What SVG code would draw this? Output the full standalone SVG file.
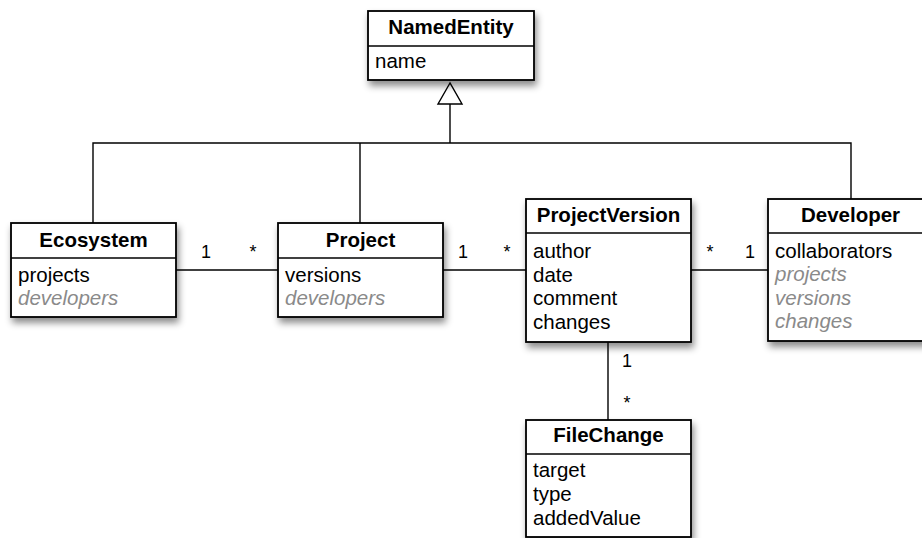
<svg xmlns="http://www.w3.org/2000/svg" width="922" height="538" viewBox="0 0 922 538">
<style>
.box{fill:#fff;stroke:#000;stroke-width:1.8}
.div{stroke:#000;stroke-width:1.5}
.t{font-family:"Liberation Sans",Arial,sans-serif;font-size:20.5px;font-weight:bold;text-anchor:middle;fill:#000}
.a{font-family:"Liberation Sans",Arial,sans-serif;font-size:20.5px;fill:#000}
.d{font-family:"Liberation Sans",Arial,sans-serif;font-size:20.5px;font-style:italic;fill:#8a8a8a}
.m{font-family:"Liberation Sans",Arial,sans-serif;font-size:18px;text-anchor:middle;fill:#000}
.c{fill:none;stroke:#000;stroke-width:1.4}
</style>
<defs>
<filter id="sh" x="-20%" y="-20%" width="150%" height="160%">
<feDropShadow dx="2" dy="5" stdDeviation="3.5" flood-color="#000" flood-opacity="0.45"/>
</filter>
</defs>
<rect width="922" height="538" fill="#fff"/>
<g id="connectors">
<polyline class="c" points="93,223 93,143 851,143 851,199"/>
<line class="c" x1="360" y1="143" x2="360" y2="223"/>
<line class="c" x1="450" y1="143" x2="450" y2="104"/>
<polygon points="450,83 438,104 462,104" fill="#fff" stroke="#000" stroke-width="1.4"/>
<line class="c" x1="176" y1="270" x2="278" y2="270"/>
<line class="c" x1="443" y1="270" x2="526" y2="270"/>
<line class="c" x1="691" y1="270" x2="768" y2="270"/>
<line class="c" x1="608" y1="342" x2="608" y2="420"/>
<text class="m" x="206" y="258">1</text>
<text class="m" x="253" y="258">*</text>
<text class="m" x="463" y="258">1</text>
<text class="m" x="507" y="258">*</text>
<text class="m" x="710" y="258">*</text>
<text class="m" x="750" y="258">1</text>
<text class="m" x="627" y="367">1</text>
<text class="m" x="627" y="409">*</text>
</g>
<g id="NamedEntity">
<rect class="box" x="368" y="11" width="166" height="69" filter="url(#sh)"/>
<line class="div" x1="368" y1="46" x2="534" y2="46"/>
<text class="t" x="451" y="34">NamedEntity</text>
<text class="a" x="375" y="68">name</text>
</g>
<g id="Ecosystem">
<rect class="box" x="11" y="223" width="165" height="94" filter="url(#sh)"/>
<line class="div" x1="11" y1="258" x2="176" y2="258"/>
<text class="t" x="93.5" y="247">Ecosystem</text>
<text class="a" x="18" y="282">projects</text>
<text class="d" x="18" y="305">developers</text>
</g>
<g id="Project">
<rect class="box" x="278" y="223" width="165" height="94" filter="url(#sh)"/>
<line class="div" x1="278" y1="258" x2="443" y2="258"/>
<text class="t" x="360.5" y="247">Project</text>
<text class="a" x="285" y="282">versions</text>
<text class="d" x="285" y="305">developers</text>
</g>
<g id="ProjectVersion">
<rect class="box" x="526" y="199" width="165" height="143" filter="url(#sh)"/>
<line class="div" x1="526" y1="233" x2="691" y2="233"/>
<text class="t" x="608.5" y="222">ProjectVersion</text>
<text class="a" x="533" y="258">author</text>
<text class="a" x="533" y="281.5">date</text>
<text class="a" x="533" y="305">comment</text>
<text class="a" x="533" y="328.5">changes</text>
</g>
<g id="Developer">
<rect class="box" x="768" y="199" width="165" height="142" filter="url(#sh)"/>
<line class="div" x1="768" y1="233" x2="933" y2="233"/>
<text class="t" x="850.5" y="222">Developer</text>
<text class="a" x="775" y="257.5">collaborators</text>
<text class="d" x="775" y="281">projects</text>
<text class="d" x="775" y="304.5">versions</text>
<text class="d" x="775" y="328">changes</text>
</g>
<g id="FileChange">
<rect class="box" x="526" y="420" width="165" height="117" filter="url(#sh)"/>
<line class="div" x1="526" y1="454" x2="691" y2="454"/>
<text class="t" x="608.5" y="442">FileChange</text>
<text class="a" x="533" y="477">target</text>
<text class="a" x="533" y="501">type</text>
<text class="a" x="533" y="525">addedValue</text>
</g>
</svg>
